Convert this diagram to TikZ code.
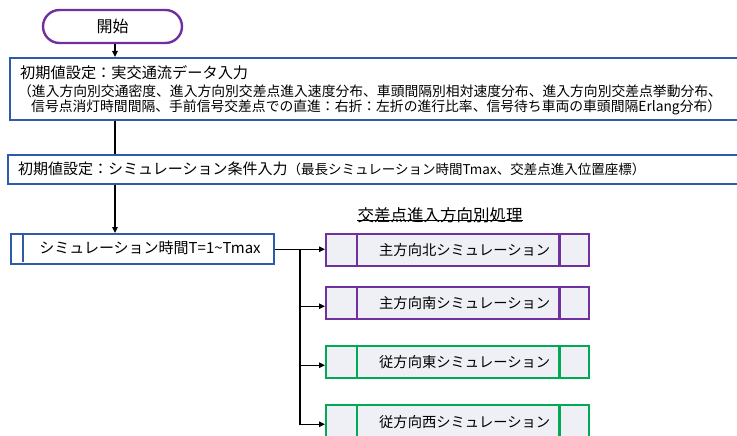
\documentclass[tikz,border=0pt]{standalone}
\usepackage{fontspec}
\usetikzlibrary{arrows.meta,shapes.misc}
\newfontfamily\jp{Noto Sans CJK JP}
\definecolor{bblue}{HTML}{2F5AA8}
\definecolor{ppurple}{HTML}{7030A0}
\definecolor{ggreen}{HTML}{00AA55}
\definecolor{lfill}{HTML}{EEF0F5}
\tikzset{
  box/.style={draw=bblue, line width=2.4pt, fill=white, inner sep=0pt, anchor=north west},
  rbox/.style={line width=2.4pt, fill=lfill, inner sep=0pt, anchor=north west, minimum width=263pt, minimum height=32pt},
  pbox/.style={rbox, draw=ppurple},
  gbox/.style={rbox, draw=ggreen},
  txt/.style={inner sep=0pt, anchor=west, font=\jp},
  arr/.style={line width=1.3pt, -{Triangle[length=6pt,width=5.5pt]}},
  conn/.style={line width=1.3pt}
}
\begin{document}
\begin{tikzpicture}[x=1pt,y=-1pt]
\useasboundingbox (0,0) rectangle (737,436);
\clip (0,0) rectangle (737,436);
% start
\node[draw=ppurple, line width=2.4pt, rounded rectangle, minimum width=139pt, minimum height=33pt, inner sep=0pt, font=\jp\fontsize{16}{18}\selectfont] (start) at (112.5,26.5) {開始};
% box 1
\node[box, minimum width=736pt, minimum height=62pt] (b1) at (9,57) {};
\node[txt, font=\jp\fontsize{15.2}{18}\selectfont] (t1a) at (20,73) {初期値設定：実交通流データ入力};
\node[txt, font=\jp\fontsize{13.8}{15}\selectfont] (t1b) at (18,91) {（進入方向別交通密度、進入方向別交差点進入速度分布、車頭間隔別相対速度分布、進入方向別交差点挙動分布、};
\node[txt, font=\jp\fontsize{13.8}{15}\selectfont] (t1c) at (31,107) {信号点消灯時間間隔、手前信号交差点での直進：右折：左折の進行比率、信号待ち車両の車頭間隔Erlang分布）};
% box 2
\node[box, minimum width=738pt, minimum height=29pt] (b2) at (7,154) {};
\node[txt] (t2) at (18,169) {\fontsize{15}{17}\selectfont 初期値設定：シミュレーション条件入力\fontsize{13.5}{15}\selectfont（最長シミュレーション時間Tmax、交差点進入位置座標）};
% box 3
\node[box, minimum width=263pt, minimum height=30pt] (b3) at (10,233) {};
\draw[draw=bblue, line width=2.4pt] ([xshift=13pt]b3.north west) -- ([xshift=13pt,yshift=3pt]b3.south west);
\node[font=\jp\fontsize{15}{17}\selectfont, inner sep=0pt] (t3) at (150,248) {シミュレーション時間T=1\textasciitilde Tmax};
% label
\node[font=\jp\fontsize{16.5}{18}\selectfont, inner sep=0pt] (lab) at (440,215) {交差点進入方向別処理};
\draw[line width=0.8pt] ([yshift=2.5pt]lab.south west) -- ([yshift=2.5pt]lab.south east);
% right boxes
\node[pbox] (r1) at (325,233) {};
\node[pbox] (r2) at (325,286) {};
\node[gbox] (r3) at (325,345) {};
\node[gbox] (r4) at (325,404) {};
\foreach \r/\c in {r1/ppurple,r2/ppurple,r3/ggreen,r4/ggreen}{
  \draw[draw=\c, line width=2.4pt] ([xshift=32pt]\r.north west) -- ([xshift=32pt]\r.south west);
  \draw[draw=\c, line width=2.4pt] ([xshift=-31pt]\r.north east) -- ([xshift=-31pt]\r.south east);
}
\node[font=\jp\fontsize{14.3}{16}\selectfont, inner sep=0pt] (tr1) at ([xshift=7pt]r1.center) {主方向北シミュレーション};
\node[font=\jp\fontsize{14.3}{16}\selectfont, inner sep=0pt] (tr2) at ([xshift=7pt]r2.center) {主方向南シミュレーション};
\node[font=\jp\fontsize{14.3}{16}\selectfont, inner sep=0pt] (tr3) at ([xshift=7pt]r3.center) {従方向東シミュレーション};
\node[font=\jp\fontsize{14.3}{16}\selectfont, inner sep=0pt] (tr4) at ([xshift=7pt,yshift=-1pt]r4.center) {従方向西シミュレーション};
% connectors
\coordinate (ax) at (115,0);
\draw[arr] (ax |- start.south) -- (ax |- b1.north);
\draw[conn] (ax |- b1.south) -- (ax |- b2.north);
\draw[arr] (ax |- b2.south) -- (ax |- b3.north);
\draw[arr] (b3.east) -- (b3.east -| r1.west);
\coordinate (br) at (300,0);
\draw[arr] (br |- b3.east) |- ([yshift=-3pt]r2.west);
\draw[arr] (br |- b3.east) |- ([yshift=-3pt]r3.west);
\draw[arr] (br |- b3.east) |- ([yshift=-3pt]r4.west);
\end{tikzpicture}
\end{document}
